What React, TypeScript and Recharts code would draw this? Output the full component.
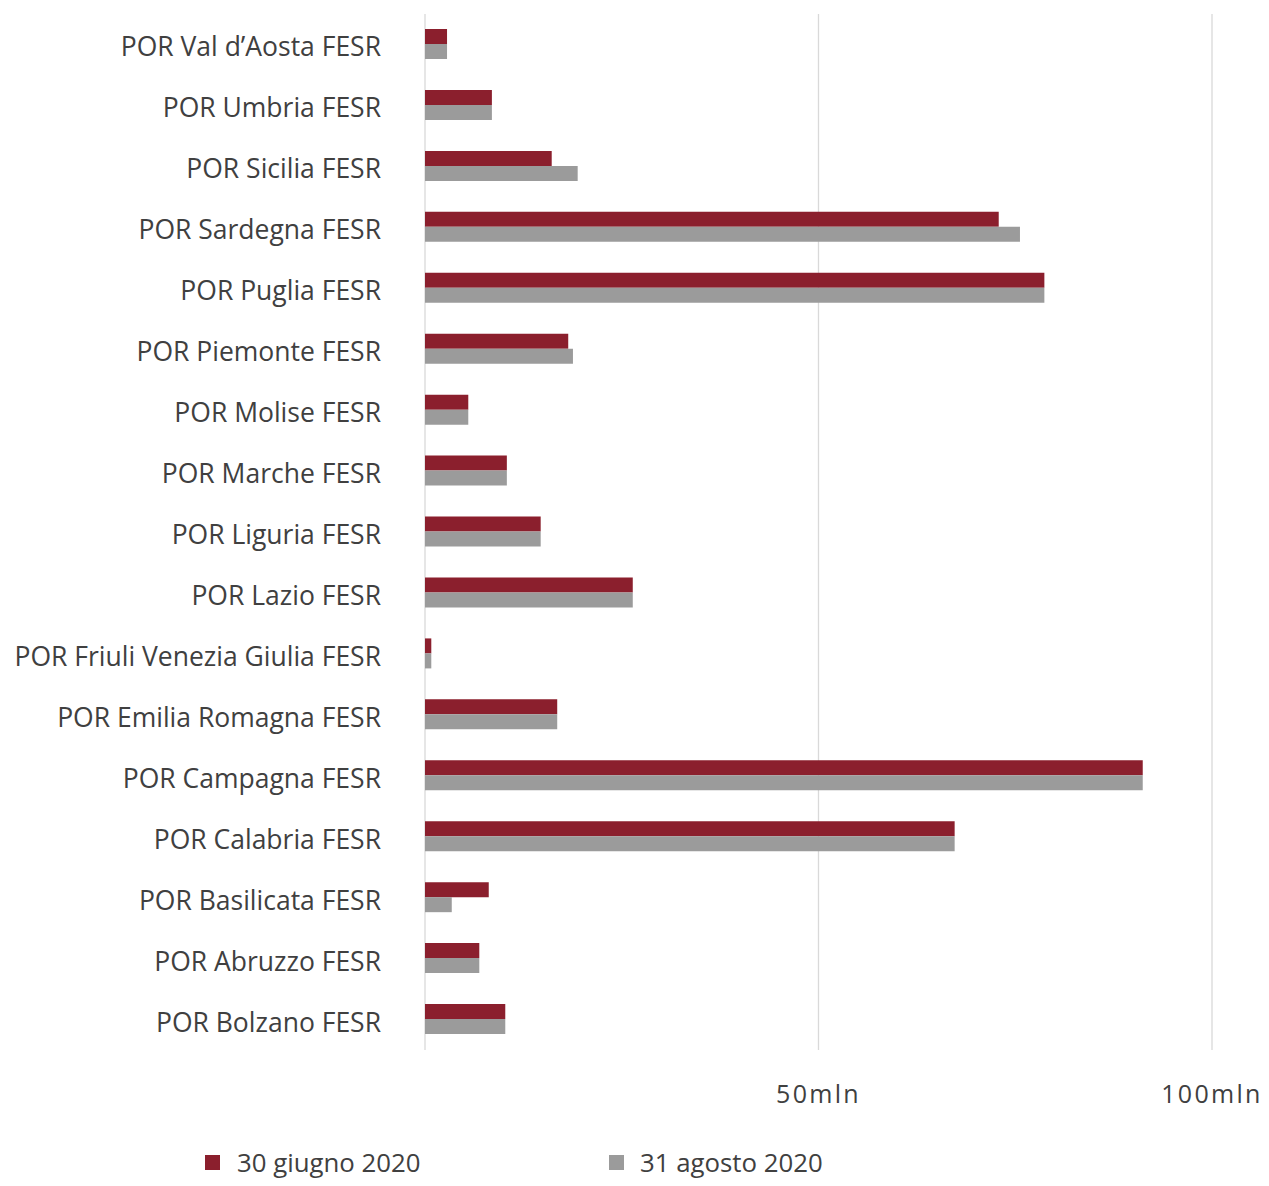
import React from "react";
import { BarChart, Bar, XAxis, YAxis, CartesianGrid } from "recharts";

const categories = [
  "POR Val d\u2019Aosta FESR",
  "POR Umbria FESR",
  "POR Sicilia FESR",
  "POR Sardegna FESR",
  "POR Puglia FESR",
  "POR Piemonte FESR",
  "POR Molise FESR",
  "POR Marche FESR",
  "POR Liguria FESR",
  "POR Lazio FESR",
  "POR Friuli Venezia Giulia FESR",
  "POR Emilia Romagna FESR",
  "POR Campagna FESR",
  "POR Calabria FESR",
  "POR Basilicata FESR",
  "POR Abruzzo FESR",
  "POR Bolzano FESR",
];

const giugno2020 = [2.8, 8.5, 16.1, 72.9, 78.7, 18.2, 5.5, 10.4, 14.7, 26.4, 0.8, 16.8, 91.2, 67.3, 8.1, 6.9, 10.2];
const agosto2020 = [2.8, 8.5, 19.4, 75.6, 78.7, 18.8, 5.5, 10.4, 14.7, 26.4, 0.8, 16.8, 91.2, 67.3, 3.4, 6.9, 10.2];

const xTicks = [0, 50, 100];
const xTickLabels = ["", "50mln", "100mln"];
const seriesNames = ["30 giugno 2020", "31 agosto 2020"];

const RED = "#8B1F2D";
const GREY = "#9B9B9B";
const TEXT = "#404040";
const FONT = "'Open Sans', sans-serif";

const data = categories.map((c, i) => ({ name: c, giugno: giugno2020[i], agosto: agosto2020[i] }));

const YTick = (props: any) => {
  const { x, y, payload } = props;
  return (
    <text x={x - 36} y={y} dy={12} textAnchor="end" fill={TEXT} fontSize={26.5} fontFamily={FONT}>
      {payload.value}
    </text>
  );
};

const XTick = (props: any) => {
  const { x, y, payload } = props;
  const idx = xTicks.indexOf(payload.value);
  const label = idx >= 0 ? xTickLabels[idx] : "";
  if (!label) return null;
  return (
    <text x={x} y={y} dy={45} textAnchor="middle" fill={TEXT} fontSize={25} fontFamily={FONT} letterSpacing={2.3}>
      {label}
    </text>
  );
};

export default function App() {
  return (
    <div style={{ position: "absolute", left: 0, top: 0, width: 1269, height: 1186, background: "#fff" }}>
      <BarChart
        width={1269}
        height={1186}
        data={data}
        layout="vertical"
        margin={{ top: 14, right: 57, bottom: 76, left: 0 }}
        barGap={0}
        barCategoryGap="25%"
      >
        <CartesianGrid horizontal={false} vertical={true} stroke="#D9D9D9" strokeWidth={1.3} />
        <XAxis
          type="number"
          domain={[0, 100]}
          ticks={xTicks}
          axisLine={false}
          tickLine={false}
          tick={<XTick />}
          height={60}
          interval={0}
        />
        <YAxis
          type="category"
          dataKey="name"
          width={425}
          axisLine={false}
          tickLine={false}
          tick={<YTick />}
          interval={0}
        />
        <Bar dataKey="giugno" name={seriesNames[0]} fill={RED} barSize={15} isAnimationActive={false} />
        <Bar dataKey="agosto" name={seriesNames[1]} fill={GREY} barSize={15} isAnimationActive={false} />
      </BarChart>
      <div style={{ position: "absolute", left: 205, top: 1146, fontFamily: FONT, fontSize: 25.8, color: TEXT, display: "flex", alignItems: "center", lineHeight: "32px" }}>
        <span style={{ display: "inline-block", width: 15, height: 15, background: RED, marginRight: 17 }} />
        <span style={{ width: 372 }}>{seriesNames[0]}</span>
        <span style={{ display: "inline-block", width: 15, height: 15, background: GREY, marginRight: 16 }} />
        <span>{seriesNames[1]}</span>
      </div>
    </div>
  );
}
